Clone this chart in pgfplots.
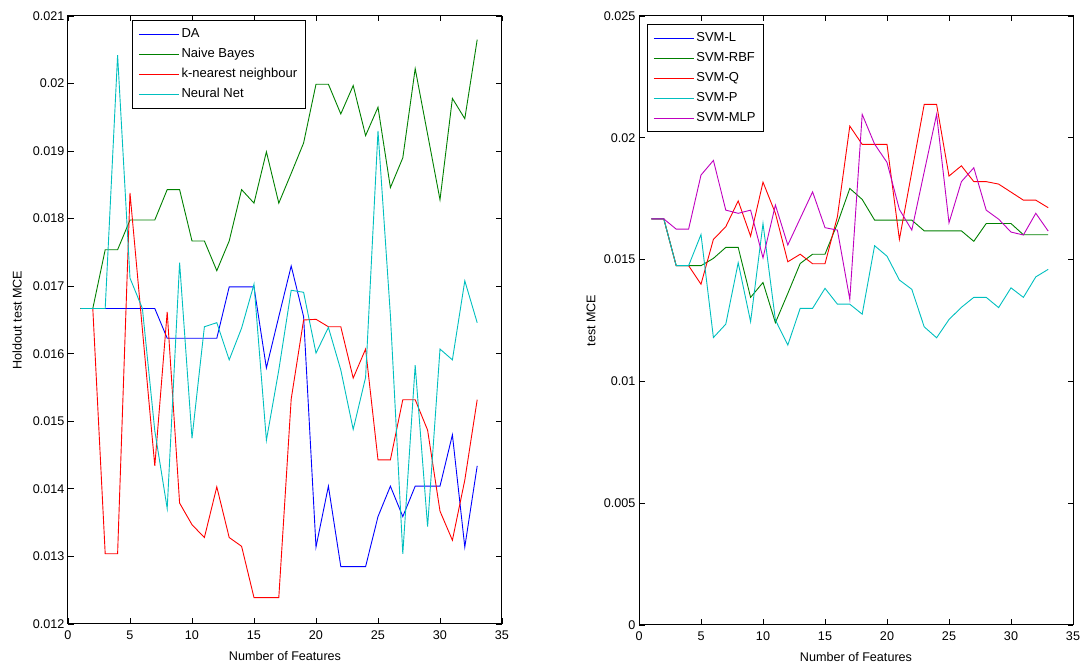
\documentclass[border=0pt]{standalone}
\usepackage{fontspec}
\setmainfont{Liberation Sans}
\usepackage{pgfplots}
\usepackage{pgfplotstable}
\pgfplotsset{compat=1.18}
\definecolor{mblue}{rgb}{0,0,1}
\definecolor{mgreen}{rgb}{0,0.5,0}
\definecolor{mred}{rgb}{1,0,0}
\definecolor{mcyan}{rgb}{0,0.75,0.75}
\definecolor{mmag}{rgb}{0.75,0,0.75}

\pgfplotstableread{
x DA NB KNN NN
1 0.01667 0.01667 0.01667 0.01667
2 0.01667 0.01667 0.01667 0.01667
3 0.01667 0.01754 0.01304 0.01667
4 0.01667 0.01754 0.01304 0.02042
5 0.01667 0.01798 0.01838 0.01712
6 0.01667 0.01798 0.01636 0.01667
7 0.01667 0.01798 0.01434 0.01486
8 0.01623 0.01843 0.01662 0.01371
9 0.01623 0.01843 0.01379 0.01735
10 0.01623 0.01767 0.01347 0.01475
11 0.01623 0.01767 0.01328 0.01640
12 0.01623 0.01723 0.01403 0.01646
13 0.01699 0.01767 0.01328 0.01591
14 0.01699 0.01843 0.01315 0.01638
15 0.01699 0.01823 0.01239 0.01703
16 0.01579 0.01899 0.01239 0.01472
17 0.01655 0.01823 0.01239 0.01576
18 0.01730 0.01867 0.01533 0.01694
19 0.01655 0.01912 0.01650 0.01691
20 0.01314 0.01999 0.01651 0.01601
21 0.01404 0.01999 0.01640 0.01639
22 0.01285 0.01955 0.01640 0.01576
23 0.01285 0.01997 0.01564 0.01488
24 0.01285 0.01923 0.01607 0.01565
25 0.01359 0.01965 0.01443 0.01930
26 0.01404 0.01846 0.01443 0.01657
27 0.01359 0.01890 0.01532 0.01304
28 0.01404 0.02022 0.01532 0.01583
29 0.01404 0.01925 0.01487 0.01344
30 0.01404 0.01828 0.01367 0.01607
31 0.01480 0.01978 0.01324 0.01591
32 0.01314 0.01948 0.01413 0.01708
33 0.01434 0.02065 0.01532 0.01646
}\lefttab

\pgfplotstableread{
x L RBF Q P MLP
1 0 0.01667 0.01667 0.01667 0.01667
2 0 0.01667 0.01667 0.01667 0.01667
3 0 0.01475 0.01475 0.01475 0.01625
4 0 0.01475 0.01475 0.01475 0.01625
5 0 0.01475 0.01399 0.01603 0.01847
6 0 0.01505 0.01583 0.01180 0.01907
7 0 0.01550 0.01635 0.01235 0.01703
8 0 0.01550 0.01741 0.01487 0.01690
9 0 0.01345 0.01596 0.01245 0.01703
10 0 0.01406 0.01818 0.01648 0.01507
11 0 0.01241 0.01690 0.01252 0.01724
12 0 0.01361 0.01491 0.01149 0.01560
13 0 0.01484 0.01522 0.01300 0.01669
14 0 0.01522 0.01483 0.01300 0.01778
15 0 0.01522 0.01483 0.01382 0.01631
16 0 0.01648 0.01676 0.01317 0.01621
17 0 0.01792 0.02048 0.01317 0.01337
18 0 0.01747 0.01973 0.01276 0.02096
19 0 0.01662 0.01973 0.01557 0.01974
20 0 0.01662 0.01973 0.01514 0.01899
21 0 0.01662 0.01583 0.01416 0.01706
22 0 0.01662 0.01860 0.01378 0.01621
23 0 0.01618 0.02137 0.01224 0.01860
24 0 0.01618 0.02137 0.01179 0.02096
25 0 0.01618 0.01843 0.01254 0.01651
26 0 0.01618 0.01885 0.01304 0.01820
27 0 0.01575 0.01820 0.01345 0.01877
28 0 0.01648 0.01820 0.01345 0.01703
29 0 0.01648 0.01810 0.01303 0.01666
30 0 0.01648 0.01777 0.01384 0.01613
31 0 0.01602 0.01744 0.01345 0.01601
32 0 0.01602 0.01744 0.01429 0.01690
33 0 0.01602 0.01713 0.01460 0.01617
}\righttab

\pgfplotsset{
  mstyle/.style={
    scale only axis,
    font=\fontsize{12.6}{15}\selectfont,
    tick label style={font=\fontsize{12.6}{15}\selectfont},
    /pgf/number format/assume math mode=true,
    axis line style={line width=1pt},
    tick style={line width=0.8pt, black},
    tick align=inside,
    major tick length=5.5pt,
    xmin=0, xmax=35, xtick={0,5,...,35},
    scaled y ticks=false,
    yticklabel style={/pgf/number format/fixed, /pgf/number format/precision=3},
    xticklabel style={yshift=-3pt},
    xlabel={Number of Features},
    xlabel style={at={(axis description cs:0.5,-0.0526)}, anchor=center},
    every axis plot/.append style={line width=0.9pt},
    legend cell align=left,
    legend image code/.code={\draw[#1, line width=1.1pt] (0pt,0pt) -- (40pt,0pt);},
    legend style={draw=black, line width=0.9pt, inner xsep=6pt, inner ysep=5.5pt,
      row sep=3.5pt,
      nodes={inner sep=2pt, text height=9.5pt, text depth=3pt},
      font=\fontsize{13}{15}\selectfont},
  }
}

\begin{document}
\begin{tikzpicture}[x=1pt,y=1pt]
\useasboundingbox (0,0) rectangle (1080,663);
\begin{axis}[mstyle,
  at={(68pt,39pt)}, anchor=south west,
  width=434pt, height=608pt,
  ymin=0.012, ymax=0.021, ytick={0.012,0.013,...,0.0215},
  ylabel={Holdout test MCE},
  ylabel style={at={(axis description cs:-0.1175,0.5)}, anchor=center},
  legend style={at={(0.1475,0.9934)}, anchor=north west},
]
\addplot[color=mblue] table[x=x,y=DA] {\lefttab};
\addlegendentry{DA}
\addplot[color=mgreen] table[x=x,y=NB] {\lefttab};
\addlegendentry{Naive Bayes}
\addplot[color=mred] table[x=x,y=KNN] {\lefttab};
\addlegendentry{k-nearest neighbour}
\addplot[color=mcyan] table[x=x,y=NN] {\lefttab};
\addlegendentry{Neural Net}
\end{axis}

\begin{axis}[mstyle,
  at={(639pt,38pt)}, anchor=south west,
  width=434pt, height=609pt,
  ymin=0, ymax=0.025, ytick={0,0.005,0.01,0.015,0.02,0.025},
  ylabel={test MCE},
  ylabel style={at={(axis description cs:-0.1106,0.5)}, anchor=center},
  legend style={at={(0.018,0.987)}, anchor=north west},
]
\addplot[color=mblue] table[x=x,y=L] {\righttab};
\addlegendentry{SVM-L}
\addplot[color=mgreen] table[x=x,y=RBF] {\righttab};
\addlegendentry{SVM-RBF}
\addplot[color=mred] table[x=x,y=Q] {\righttab};
\addlegendentry{SVM-Q}
\addplot[color=mcyan] table[x=x,y=P] {\righttab};
\addlegendentry{SVM-P}
\addplot[color=mmag] table[x=x,y=MLP] {\righttab};
\addlegendentry{SVM-MLP}
\end{axis}
\end{tikzpicture}
\end{document}
